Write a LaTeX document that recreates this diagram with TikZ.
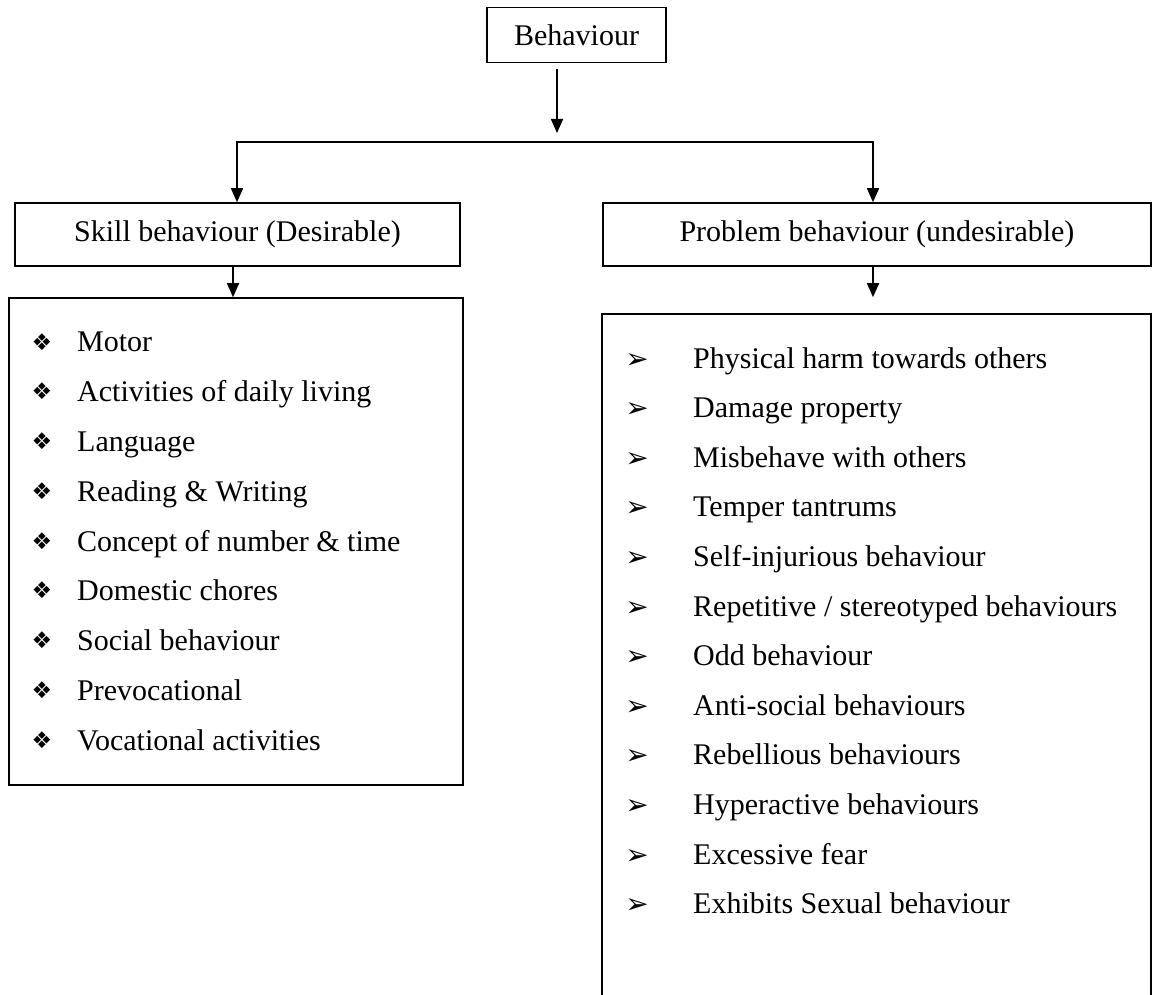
\documentclass[tikz,border=0pt]{standalone}
\usepackage{fontspec}
\setmainfont{Liberation Serif}
\newfontfamily\dingfont{DejaVu Sans}
\usepackage{tikz}
\usetikzlibrary{arrows.meta, positioning}

\begin{document}
\begin{tikzpicture}[
    x=1pt, y=-1pt,
    font=\fontsize{30}{36}\selectfont,
    title/.style={draw, line width=1.6pt, minimum height=63pt, inner sep=0pt},
    listbox/.style={draw, line width=1.6pt, inner sep=0pt},
    item/.style={anchor=base west, inner sep=0pt},
    bullet/.style={anchor=base, inner sep=0pt, font=\dingfont\fontsize{28}{28}\selectfont},
    arr/.style={-{Triangle[width=12pt,length=14pt]}, line width=1.6pt}
]
    \clip (0,0) rectangle (1152,995);

    % Boxes
    \node[title, minimum width=179pt, minimum height=55pt] (behaviour) at (576.5,35) {Behaviour};
    \node[title, minimum width=445pt] (skill) at (237.5,234.5) {Skill behaviour (Desirable)};
    \node[title, minimum width=548pt] (problem) at (877,234.5) {Problem behaviour (undesirable)};
    \node[listbox, minimum width=454pt, minimum height=487pt] (skilllist) at (236,541.5) {};
    \node[listbox, minimum width=549pt, minimum height=712pt] (problemlist) at (876.5,670) {};

    % Branch points
    \coordinate (split) at (557,142);
    \coordinate (lturn) at (237,142);
    \coordinate (rturn) at (873,142);

    % Connections
    \draw[arr, shorten <=6pt, shorten >=9pt] (behaviour.south -| split) -- (split);
    \draw[arr] (split) -- (lturn) -- (lturn |- skill.north);
    \draw[arr] (split) -- (rturn) -- (rturn |- problem.north);
    \draw[arr] (skill.south -| 233,0) -- (skilllist.north -| 233,0);
    \draw[arr, shorten >=16pt] (problem.south -| rturn) -- (problemlist.north -| rturn);

    % Skill items
    \foreach \txt [count=\i from 0] in {Motor, Activities of daily living, Language,
        Reading \& Writing, Concept of number \& time, Domestic chores,
        Social behaviour, Prevocational, Vocational activities} {
        \node[bullet, font=\dingfont\fontsize{23}{23}\selectfont] (sb\i) at (42,350+49.75*\i) {❖};
        \node[item] (st\i) at (77,352+49.75*\i) {\txt};
    }

    % Problem items
    \foreach \txt [count=\i from 0] in {Physical harm towards others, Damage property,
        Misbehave with others, Temper tantrums, Self-injurious behaviour,
        Repetitive / stereotyped behaviours, Odd behaviour, Anti-social behaviours,
        Rebellious behaviours, Hyperactive behaviours, Excessive fear,
        Exhibits Sexual behaviour} {
        \node[bullet] (pb\i) at (637,368+49.6*\i) {➢};
        \node[item] (pt\i) at (693,368+49.6*\i) {\txt};
    }
\end{tikzpicture}
\end{document}
